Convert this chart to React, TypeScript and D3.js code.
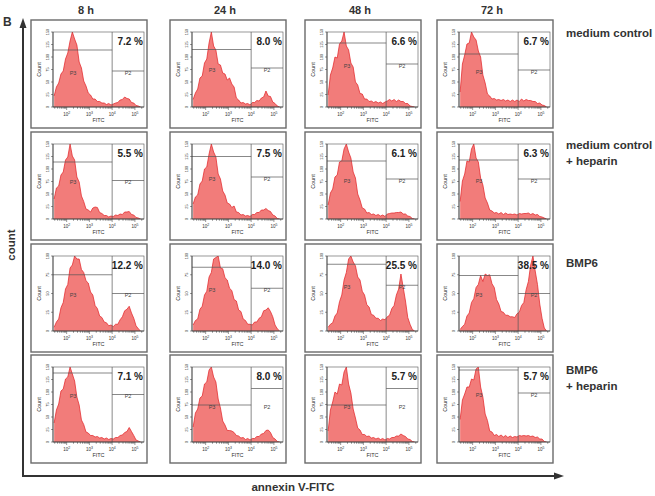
import React from "react";
import * as d3 from "d3";

// ---------- data ----------
const timepoints = ["8 h", "24 h", "48 h", "72 h"];
const conditionLabels = [["medium control"], ["medium control", "+ heparin"], ["BMP6"], ["BMP6", "+ heparin"]];

// bin centres, log10(FITC)
const binLog = [1.45, 1.55, 1.65, 1.75, 1.85, 1.95, 2.05, 2.15, 2.25, 2.35, 2.45, 2.55, 2.65, 2.75, 2.85, 2.95, 3.05, 3.15, 3.25, 3.35, 3.45, 3.55, 3.65, 3.75, 3.85, 3.95, 4.05, 4.15, 4.25, 4.35, 4.45, 4.55, 4.65, 4.75, 4.85, 4.95, 5.05, 5.15, 5.25];

const mediumControl = [
  [22, 40, 48, 66, 72, 96, 108, 132, 150, 136, 124, 90, 78, 52, 42, 28, 24, 16, 16, 11, 11, 8, 8, 5, 7, 4, 6, 8, 9, 14, 15, 20, 17, 16, 9, 8, 3, 2, 0],
  [15, 28, 36, 58, 62, 88, 96, 128, 150, 122, 114, 86, 84, 68, 66, 54, 58, 46, 40, 18, 14, 8, 9, 6, 7, 4, 9, 9, 13, 12, 18, 20, 32, 22, 21, 10, 7, 2, 0],
  [24, 64, 78, 100, 98, 126, 132, 150, 122, 114, 88, 80, 50, 44, 27, 26, 16, 16, 11, 12, 9, 11, 8, 10, 7, 10, 12, 15, 12, 15, 11, 14, 11, 11, 7, 7, 2, 1, 0],
  [30, 86, 104, 126, 128, 150, 140, 134, 112, 100, 64, 48, 26, 22, 16, 17, 14, 15, 13, 15, 12, 14, 11, 14, 11, 14, 11, 16, 12, 15, 13, 13, 11, 11, 7, 8, 4, 3, 0],
];
const mediumHeparin = [
  [40, 62, 66, 88, 94, 118, 124, 150, 126, 118, 84, 74, 46, 35, 20, 18, 14, 22, 24, 23, 13, 11, 7, 7, 4, 6, 5, 8, 7, 10, 9, 14, 14, 15, 9, 8, 3, 2, 0],
  [30, 44, 48, 70, 76, 100, 104, 130, 150, 134, 124, 90, 80, 56, 48, 32, 30, 23, 26, 14, 13, 8, 9, 6, 7, 5, 9, 9, 13, 13, 18, 18, 21, 17, 15, 8, 6, 1, 0],
  [28, 52, 60, 84, 88, 114, 116, 140, 150, 134, 122, 94, 82, 50, 38, 22, 20, 12, 13, 9, 10, 7, 9, 6, 8, 5, 10, 11, 12, 12, 13, 13, 14, 10, 10, 6, 5, 1, 0],
  [35, 76, 90, 116, 114, 140, 150, 122, 114, 82, 68, 42, 32, 18, 16, 12, 13, 10, 13, 9, 12, 9, 10, 9, 10, 8, 11, 10, 11, 11, 12, 9, 11, 8, 9, 5, 4, 2, 0],
];
const bmp6 = [
  [5, 12, 16, 31, 38, 56, 62, 84, 88, 100, 96, 96, 82, 78, 67, 64, 52, 48, 34, 30, 20, 18, 12, 11, 7, 8, 6, 9, 9, 15, 19, 27, 29, 33, 24, 17, 7, 3, 0],
  [8, 14, 16, 29, 33, 48, 53, 72, 78, 96, 98, 100, 84, 83, 71, 68, 57, 54, 42, 40, 28, 26, 16, 14, 9, 9, 8, 12, 12, 17, 19, 27, 28, 31, 26, 19, 8, 3, 0],
  [5, 9, 11, 20, 24, 39, 48, 68, 78, 96, 100, 92, 87, 72, 68, 53, 48, 35, 32, 22, 21, 17, 17, 14, 16, 15, 19, 21, 30, 34, 48, 56, 76, 58, 40, 18, 9, 2, 0],
  [2, 6, 9, 20, 24, 38, 43, 58, 62, 74, 66, 76, 74, 75, 63, 58, 42, 36, 26, 25, 21, 21, 19, 19, 18, 23, 25, 34, 38, 55, 66, 88, 100, 80, 62, 36, 17, 4, 0],
];
const bmp6Heparin = [
  [38, 64, 76, 102, 106, 126, 130, 150, 136, 122, 90, 74, 44, 35, 20, 18, 13, 13, 10, 11, 8, 9, 6, 8, 5, 7, 6, 9, 9, 13, 14, 19, 21, 29, 21, 13, 4, 2, 0],
  [30, 58, 66, 88, 92, 116, 120, 144, 150, 130, 120, 86, 68, 42, 34, 23, 23, 22, 19, 13, 12, 8, 9, 5, 7, 4, 7, 7, 11, 11, 16, 17, 23, 24, 19, 9, 6, 1, 0],
  [22, 64, 80, 100, 96, 116, 114, 140, 150, 116, 98, 66, 48, 28, 24, 15, 15, 11, 12, 8, 9, 6, 8, 5, 7, 4, 7, 6, 9, 9, 12, 12, 16, 13, 11, 6, 5, 1, 0],
  [45, 84, 96, 110, 110, 126, 124, 146, 150, 110, 90, 56, 43, 22, 20, 13, 15, 11, 14, 10, 13, 9, 12, 9, 11, 10, 13, 12, 13, 12, 13, 11, 12, 9, 10, 6, 6, 1, 0],
];

const yMaxByRow = [150, 150, 100, 150];

const percentMedium = ["7.2", "8.0", "6.6", "6.7"];
const percentMediumHeparin = ["5.5", "7.5", "6.1", "6.3"];
const percentBmp6 = ["12.2", "14.0", "25.5", "38.5"];
const percentBmp6Heparin = ["7.1", "8.0", "5.7", "5.7"];

// gate marker heights (count units)
const gateP3 = [
  [114, 115, 128, 106],
  [114, 125, 116, 118],
  [75, 85, 89, 74],
  [138, 74, 74, 144],
];
const gateP2 = [
  [72, 78, 86, 74],
  [77, 84, 80, 80],
  [50, 57, 61, 50],
  [95, 107, 107, 98],
];

const gateBoundary = 1e4;
const xDomain = [Math.pow(10, 1.4), Math.pow(10, 5.4)];
const xMajorTicks = [2, 3, 4, 5];

const histograms = [mediumControl, mediumHeparin, bmp6, bmp6Heparin];
const percents = [percentMedium, percentMediumHeparin, percentBmp6, percentBmp6Heparin];

// ---------- layout ----------
const W = 655;
const H = 496;
const colLeft = [31, 170, 305, 437];
const rowTop = [20, 132, 244, 355];
const boxW = 116;
const boxH = 108;
const FONT = "'Liberation Sans', Arial, sans-serif";

function Panel({ r, c }: { r: number; c: number }) {
  const bx = colLeft[c];
  const by = rowTop[r];
  const pl = bx + 22;
  const pr = bx + 113;
  const pt = by + 12;
  const pb = by + 87;
  const x = d3.scaleLog().domain(xDomain).range([pl, pr]);
  const yMax = yMaxByRow[r];
  const y = d3.scaleLinear().domain([0, yMax]).range([pb, pt]);
  const values = histograms[r][c];
  const pts = binLog.map((l, i) => ({ fx: Math.pow(10, l), n: values[i] }));
  const area = d3
    .area<{ fx: number; n: number }>()
    .x((d) => x(d.fx))
    .y0(pb)
    .y1((d) => y(d.n));
  const line = d3
    .line<{ fx: number; n: number }>()
    .x((d) => x(d.fx))
    .y((d) => y(d.n));
  const xb = x(gateBoundary);
  const yP3 = y(gateP3[r][c]);
  const yP2 = y(gateP2[r][c]);
  const labelY = Math.max(yP3, yP2) + 2.5;
  const minor: number[] = [];
  for (let k = 1; k <= 5; k++) {
    for (let m = 1; m <= 9; m++) {
      const v = m * Math.pow(10, k);
      if (v >= xDomain[0] && v <= xDomain[1]) minor.push(v);
    }
  }
  const yTicks = d3.range(0, yMax + 1, 25);
  const clipId = `clip-${r}-${c}`;
  return (
    <g>
      <rect x={bx} y={by} width={boxW} height={boxH} fill="white" stroke="#6a6a6a" strokeWidth={1.4} />
      <defs>
        <clipPath id={clipId}>
          <rect x={pl} y={pt} width={pr - pl} height={pb - pt} />
        </clipPath>
      </defs>
      <g clipPath={`url(#${clipId})`}>
        <path d={area(pts) || ""} fill="#f27c7a" />
        <path d={line(pts) || ""} fill="none" stroke="#e3282c" strokeWidth={0.75} />
      </g>
      {/* frame */}
      <rect x={pl} y={pt} width={pr - pl} height={pb - pt} fill="none" stroke="#555" strokeWidth={0.6} />
      {/* gates */}
      <line x1={xb} x2={xb} y1={pt} y2={pb} stroke="#555" strokeWidth={0.7} />
      <line x1={pl} x2={xb} y1={yP3} y2={yP3} stroke="#555" strokeWidth={0.7} />
      <line x1={xb} x2={pr} y1={yP2} y2={yP2} stroke="#555" strokeWidth={0.7} />
      <text x={pl + 20} y={labelY} fontSize={5.5} fill="#444" textAnchor="middle" dominantBaseline="middle" fontFamily={FONT}>
        P3
      </text>
      <text x={(xb + pr) / 2} y={labelY} fontSize={5.5} fill="#444" textAnchor="middle" dominantBaseline="middle" fontFamily={FONT}>
        P2
      </text>
      <text x={pr - 1} y={pt + 13} fontSize={10} fontWeight="bold" fill="#222" textAnchor="end" fontFamily={FONT}>
        {percents[r][c]} %
      </text>
      {/* x axis */}
      <line x1={pl} x2={pr} y1={pb} y2={pb} stroke="#333" strokeWidth={0.7} />
      {minor.map((v, i) => (
        <line key={i} x1={x(v)} x2={x(v)} y1={pb} y2={pb + (v === Math.pow(10, Math.round(Math.log10(v))) ? 3 : 1.8)} stroke="#333" strokeWidth={0.5} />
      ))}
      {xMajorTicks.map((k) => (
        <text key={k} x={x(Math.pow(10, k))} y={pb + 8.5} fontSize={4.5} fill="#333" textAnchor="middle" fontFamily={FONT}>
          10
          <tspan fontSize={3.5} dy={-2}>
            {k}
          </tspan>
        </text>
      ))}
      <text x={(pl + pr) / 2} y={pb + 15} fontSize={5.5} fill="#333" textAnchor="middle" fontFamily={FONT}>
        FITC
      </text>
      {/* y axis */}
      <line x1={pl} x2={pl} y1={pt} y2={pb} stroke="#333" strokeWidth={0.7} />
      {yTicks.map((t) => (
        <g key={t}>
          <line x1={pl - 2} x2={pl} y1={y(t)} y2={y(t)} stroke="#333" strokeWidth={0.5} />
          <text x={pl - 4} y={y(t)} fontSize={3.8} fill="#333" textAnchor="middle" transform={`rotate(-90 ${pl - 4} ${y(t)})`} fontFamily={FONT}>
            {t}
          </text>
        </g>
      ))}
      <text x={pl - 12} y={(pt + pb) / 2} fontSize={5.5} fill="#333" textAnchor="middle" transform={`rotate(-90 ${pl - 12} ${(pt + pb) / 2})`} fontFamily={FONT}>
        Count
      </text>
    </g>
  );
}

const rowLabelY = [[37], [149, 165], [267], [374, 390]];

export default function App() {
  const cells: { r: number; c: number }[] = [];
  for (let r = 0; r < 4; r++) for (let c = 0; c < 4; c++) cells.push({ r, c });
  return (
    <svg width={W} height={H} style={{ position: "absolute", left: 0, top: 0, background: "white" }} fontFamily={FONT}>
      <rect width={W} height={H} fill="white" />
      <text x={3} y={26} fontSize={12} fontWeight="bold" fill="#333">B</text>
      {timepoints.map((t, c) => (
        <text key={t} x={colLeft[c] + boxW / 2 - 3} y={14} fontSize={11} fontWeight="bold" fill="#333" textAnchor="middle">
          {t}
        </text>
      ))}
      {conditionLabels.map((lines, r) =>
        lines.map((s, i) => (
          <text key={`${r}-${i}`} x={566} y={rowLabelY[r][i]} fontSize={11.5} fontWeight="bold" fill="#333">
            {s}
          </text>
        ))
      )}
      {cells.map(({ r, c }) => (
        <Panel key={`${r}-${c}`} r={r} c={c} />
      ))}
      {/* outer axes */}
      <line x1={23} x2={23} y1={477} y2={26} stroke="#333" strokeWidth={2} />
      <polygon points="23,18 19.5,28 26.5,28" fill="#333" />
      <line x1={22} x2={556} y1={476} y2={476} stroke="#333" strokeWidth={2} />
      <polygon points="564,476 554,472.5 554,479.5" fill="#333" />
      <text x={12} y={245} fontSize={11.5} fontWeight="bold" fill="#333" textAnchor="middle" transform="rotate(-90 12 245)" dominantBaseline="middle">
        count
      </text>
      <text x={293} y={491} fontSize={11.5} fontWeight="bold" fill="#333" textAnchor="middle">
        annexin V-FITC
      </text>
    </svg>
  );
}
